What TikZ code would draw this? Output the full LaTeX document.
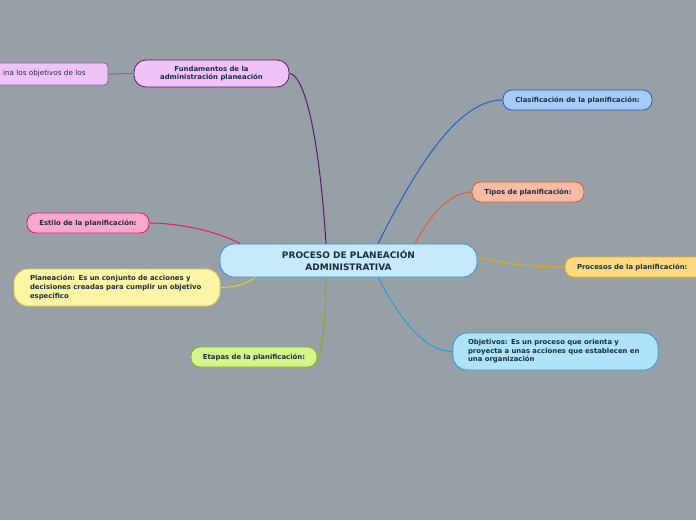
\documentclass[tikz,border=0pt]{standalone}
\usepackage{fontspec}
\setmainfont{DejaVu Sans}
\definecolor{bg}{HTML}{98A0A7}
\definecolor{txt}{HTML}{1C2E40}
\definecolor{cfill}{HTML}{C6EAFB}\definecolor{cdraw}{HTML}{3A8CC8}
\definecolor{ffill}{HTML}{EFC3FA}\definecolor{fdraw}{HTML}{5A1A6C}
\definecolor{ldraw}{HTML}{8E5CA0}
\definecolor{clfill}{HTML}{A7CCF8}\definecolor{cldraw}{HTML}{1A5FC8}
\definecolor{tfill}{HTML}{F8BBA6}\definecolor{tdraw}{HTML}{E8582A}
\definecolor{pfill}{HTML}{FDDA80}\definecolor{pdraw}{HTML}{E8AA00}
\definecolor{ofill}{HTML}{AEE3FA}\definecolor{odraw}{HTML}{1AA0DC}
\definecolor{efill}{HTML}{D3F58A}\definecolor{edraw}{HTML}{8AAA20}
\definecolor{plfill}{HTML}{FDF4A6}\definecolor{pldraw}{HTML}{E3CE2A}
\definecolor{esfill}{HTML}{FBA8CF}\definecolor{esdraw}{HTML}{E0186A}
\begin{document}
\begin{tikzpicture}[x=1pt,y=-1pt,
  every node/.style={font=\fontsize{6.9}{8.6}\selectfont\bfseries, text=txt, inner sep=0pt},
  mm/.style={draw, line width=0.8pt, rounded corners=9pt, align=center},
  conn/.style={line width=1pt}]
\useasboundingbox (0,0) rectangle (696,520);
\fill[bg] (0,0) rectangle (696,520);
\clip (0,0) rectangle (696,520);
\node[mm, fill=cfill, draw=cdraw, minimum width=257pt, minimum height=33pt, rounded corners=14pt, font=\fontsize{9}{11.5}\selectfont\bfseries] (c) at (348.5,260.5) {PROCESO DE PLANEACIÓN\\ADMINISTRATIVA};
\node[mm, fill=ffill, draw=fdraw, minimum width=155pt, minimum height=27pt, rounded corners=12pt] (f) at (211.5,73.5) {Fundamentos de la\\administración planeación};
\node[mm, fill=ffill, draw=ldraw, minimum width=118pt, minimum height=22pt, rounded corners=4pt, text width=92pt, inner xsep=13pt, align=left, font=\fontsize{7.2}{8.6}\selectfont] (l) at (49,74) {\raisebox{2.5pt}{ina los objetivos de los}};
\node[mm, fill=clfill, draw=cldraw, minimum width=149pt, minimum height=20pt] (cl) at (577.5,100) {Clasificación de la planificación:};
\node[mm, fill=tfill, draw=tdraw, minimum width=112pt, minimum height=20pt] (t) at (528,192) {Tipos de planificación:};
\node[mm, fill=pfill, draw=pdraw, minimum width=155pt, minimum height=20pt, text width=131pt, inner xsep=12pt, align=left] (p) at (642.5,267) {Procesos de la planificación:};
\node[mm, fill=ofill, draw=odraw, minimum width=205pt, minimum height=37pt, rounded corners=14pt, text width=175pt, inner xsep=15pt, align=left] (o) at (555.5,351.5) {Objetivos: Es un proceso que orienta y\\proyecta a unas acciones que establecen en\\una organización};
\node[mm, fill=efill, draw=edraw, minimum width=126pt, minimum height=20pt] (e) at (254,357) {Etapas de la planificación:};
\node[mm, fill=plfill, draw=pldraw, minimum width=206pt, minimum height=37pt, rounded corners=14pt, text width=174pt, inner xsep=16pt, align=left] (pl) at (117,287.5) {Planeación: Es un conjunto de acciones y\\decisiones creadas para cumplir un objetivo\\especifico};
\node[mm, fill=esfill, draw=esdraw, minimum width=122pt, minimum height=20pt] (es) at (88,223) {Estilo de la planificación:};
\draw[conn, draw=fdraw] ([xshift=-22.5pt]c.north) .. controls (318,120) and (302,74) .. (f.east);
\draw[conn, draw=ldraw] (f.west) -- (l.east);
\draw[conn, draw=cldraw] ([xshift=29.5pt]c.north) .. controls (420,160) and (460,100) .. (cl.west);
\draw[conn, draw=tdraw] ([xshift=66.5pt]c.north) .. controls (430,215) and (450,192) .. (t.west);
\draw[conn, draw=pdraw] ([yshift=3.5pt]c.east) .. controls (510,265.5) and (540,267) .. (p.west);
\draw[conn, draw=odraw] ([xshift=29.5pt]c.south) .. controls (400,320) and (425,351.5) .. (o.west);
\draw[conn, draw=edraw] ([xshift=-22.5pt]c.south) .. controls (326,320) and (322,355) .. (e.east);
\draw[conn, draw=pldraw] ([xshift=-93.5pt]c.south) .. controls (245,285) and (232,287.5) .. (pl.east);
\draw[conn, draw=esdraw] ([xshift=-108.5pt]c.north) .. controls (215,230) and (175,223) .. (es.east);
\end{tikzpicture}
\end{document}
